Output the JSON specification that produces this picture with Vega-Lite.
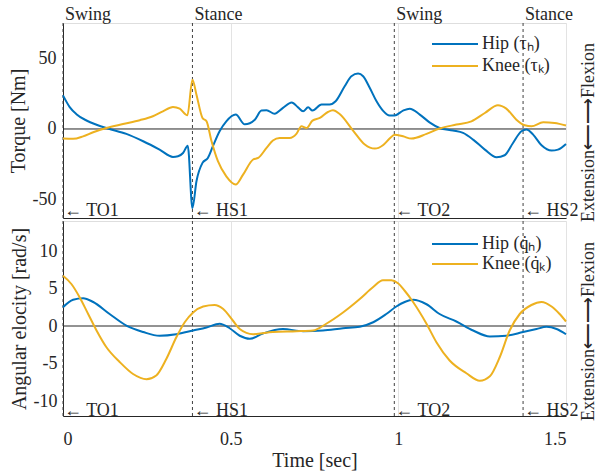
{
  "$schema": "https://vega.github.io/schema/vega-lite/v6.json",
  "padding": {"left": 7, "top": 5, "right": 0, "bottom": 0},
  "config": {
    "font": "Liberation Serif, Times New Roman, serif",
    "view": {"stroke": "#dedede"},
    "axis": {"gridColor": "#e3e3e3", "domainColor": "#262626", "labelColor": "#262626", "titleColor": "#262626", "labelFontSize": 18, "titleFontSize": 20, "titleFontWeight": "normal", "ticks": false, "labelFont": "Liberation Serif, Times New Roman, serif", "titleFont": "Liberation Serif, Times New Roman, serif"},
    "legend": {"labelFontSize": 18, "labelColor": "#262626", "labelFont": "Liberation Serif, Times New Roman, serif"},
    "text": {"font": "Liberation Serif, Times New Roman, serif"}
  },
  "datasets": {
    "torque": [
      {"t": 0, "series": "Hip", "v": 23.8}, {"t": 0.02, "series": "Hip", "v": 15.5}, {"t": 0.04, "series": "Hip", "v": 10.5}, {"t": 0.07, "series": "Hip", "v": 6}, {"t": 0.1, "series": "Hip", "v": 3}, {"t": 0.134, "series": "Hip", "v": 0.3}, {"t": 0.189, "series": "Hip", "v": -3.5}, {"t": 0.239, "series": "Hip", "v": -8.7}, {"t": 0.288, "series": "Hip", "v": -14.6}, {"t": 0.328, "series": "Hip", "v": -19.8}, {"t": 0.343, "series": "Hip", "v": -19.3}, {"t": 0.358, "series": "Hip", "v": -17}, {"t": 0.372, "series": "Hip", "v": -11.8}, {"t": 0.386, "series": "Hip", "v": -56}, {"t": 0.398, "series": "Hip", "v": -37}, {"t": 0.416, "series": "Hip", "v": -24}, {"t": 0.432, "series": "Hip", "v": -20.5}, {"t": 0.447, "series": "Hip", "v": -12.2}, {"t": 0.467, "series": "Hip", "v": -1.6}, {"t": 0.487, "series": "Hip", "v": 5.4}, {"t": 0.515, "series": "Hip", "v": 10.2}, {"t": 0.542, "series": "Hip", "v": 3.3}, {"t": 0.572, "series": "Hip", "v": 6.6}, {"t": 0.592, "series": "Hip", "v": 13}, {"t": 0.607, "series": "Hip", "v": 13.2}, {"t": 0.631, "series": "Hip", "v": 10.8}, {"t": 0.656, "series": "Hip", "v": 14.9}, {"t": 0.682, "series": "Hip", "v": 18.8}, {"t": 0.701, "series": "Hip", "v": 15.3}, {"t": 0.716, "series": "Hip", "v": 12.5}, {"t": 0.731, "series": "Hip", "v": 15.3}, {"t": 0.744, "series": "Hip", "v": 13}, {"t": 0.771, "series": "Hip", "v": 17.3}, {"t": 0.795, "series": "Hip", "v": 17.3}, {"t": 0.813, "series": "Hip", "v": 19.6}, {"t": 0.84, "series": "Hip", "v": 30.2}, {"t": 0.86, "series": "Hip", "v": 37.3}, {"t": 0.88, "series": "Hip", "v": 39.2}, {"t": 0.895, "series": "Hip", "v": 37.3}, {"t": 0.915, "series": "Hip", "v": 29}, {"t": 0.935, "series": "Hip", "v": 19.6}, {"t": 0.954, "series": "Hip", "v": 13}, {"t": 0.974, "series": "Hip", "v": 9.5}, {"t": 0.989, "series": "Hip", "v": 9.5}, {"t": 1.014, "series": "Hip", "v": 13}, {"t": 1.034, "series": "Hip", "v": 14.4}, {"t": 1.064, "series": "Hip", "v": 10.2}, {"t": 1.093, "series": "Hip", "v": 4.7}, {"t": 1.123, "series": "Hip", "v": 0.7}, {"t": 1.163, "series": "Hip", "v": -1.1}, {"t": 1.193, "series": "Hip", "v": -2.8}, {"t": 1.223, "series": "Hip", "v": -7.5}, {"t": 1.258, "series": "Hip", "v": -14.6}, {"t": 1.293, "series": "Hip", "v": -20}, {"t": 1.317, "series": "Hip", "v": -18.6}, {"t": 1.342, "series": "Hip", "v": -9.9}, {"t": 1.367, "series": "Hip", "v": -1.6}, {"t": 1.382, "series": "Hip", "v": -0.4}, {"t": 1.402, "series": "Hip", "v": -4}, {"t": 1.427, "series": "Hip", "v": -11.5}, {"t": 1.457, "series": "Hip", "v": -15.3}, {"t": 1.476, "series": "Hip", "v": -14.6}, {"t": 1.5, "series": "Hip", "v": -10.6},
      {"t": 0, "series": "Knee", "v": -6.8}, {"t": 0.03, "series": "Knee", "v": -7}, {"t": 0.06, "series": "Knee", "v": -5.2}, {"t": 0.09, "series": "Knee", "v": -2.3}, {"t": 0.129, "series": "Knee", "v": 0.7}, {"t": 0.179, "series": "Knee", "v": 3.5}, {"t": 0.229, "series": "Knee", "v": 6.2}, {"t": 0.268, "series": "Knee", "v": 9}, {"t": 0.298, "series": "Knee", "v": 12.5}, {"t": 0.328, "series": "Knee", "v": 15.6}, {"t": 0.348, "series": "Knee", "v": 14.4}, {"t": 0.371, "series": "Knee", "v": 9.7}, {"t": 0.386, "series": "Knee", "v": 34.9}, {"t": 0.398, "series": "Knee", "v": 24.3}, {"t": 0.416, "series": "Knee", "v": 7.8}, {"t": 0.428, "series": "Knee", "v": 5.4}, {"t": 0.443, "series": "Knee", "v": -8.7}, {"t": 0.462, "series": "Knee", "v": -22.8}, {"t": 0.487, "series": "Knee", "v": -33.5}, {"t": 0.515, "series": "Knee", "v": -39.3}, {"t": 0.537, "series": "Knee", "v": -32.3}, {"t": 0.567, "series": "Knee", "v": -21.6}, {"t": 0.582, "series": "Knee", "v": -20.5}, {"t": 0.607, "series": "Knee", "v": -13.4}, {"t": 0.626, "series": "Knee", "v": -8.2}, {"t": 0.646, "series": "Knee", "v": -6.4}, {"t": 0.676, "series": "Knee", "v": -6.4}, {"t": 0.696, "series": "Knee", "v": -3.5}, {"t": 0.711, "series": "Knee", "v": 1.9}, {"t": 0.726, "series": "Knee", "v": 0.7}, {"t": 0.744, "series": "Knee", "v": 5.9}, {"t": 0.766, "series": "Knee", "v": 7.8}, {"t": 0.79, "series": "Knee", "v": 12}, {"t": 0.805, "series": "Knee", "v": 13.2}, {"t": 0.825, "series": "Knee", "v": 10.6}, {"t": 0.865, "series": "Knee", "v": -1.1}, {"t": 0.9, "series": "Knee", "v": -11}, {"t": 0.93, "series": "Knee", "v": -13.9}, {"t": 0.954, "series": "Knee", "v": -11.5}, {"t": 0.974, "series": "Knee", "v": -6.8}, {"t": 0.989, "series": "Knee", "v": -4}, {"t": 1.014, "series": "Knee", "v": -5.2}, {"t": 1.039, "series": "Knee", "v": -6.8}, {"t": 1.084, "series": "Knee", "v": -3.5}, {"t": 1.123, "series": "Knee", "v": 0.3}, {"t": 1.173, "series": "Knee", "v": 3.1}, {"t": 1.218, "series": "Knee", "v": 5.4}, {"t": 1.258, "series": "Knee", "v": 11.3}, {"t": 1.297, "series": "Knee", "v": 16.8}, {"t": 1.322, "series": "Knee", "v": 14.4}, {"t": 1.352, "series": "Knee", "v": 6.6}, {"t": 1.377, "series": "Knee", "v": 2.6}, {"t": 1.397, "series": "Knee", "v": 1.9}, {"t": 1.432, "series": "Knee", "v": 4.7}, {"t": 1.466, "series": "Knee", "v": 4.2}, {"t": 1.5, "series": "Knee", "v": 2.4}
    ],
    "vel": [
      {"t": 0, "series": "Hip", "v": 2.5}, {"t": 0.03, "series": "Hip", "v": 3.5}, {"t": 0.06, "series": "Hip", "v": 3.7}, {"t": 0.09, "series": "Hip", "v": 3.2}, {"t": 0.139, "series": "Hip", "v": 1.6}, {"t": 0.189, "series": "Hip", "v": 0.05}, {"t": 0.239, "series": "Hip", "v": -0.8}, {"t": 0.288, "series": "Hip", "v": -1.3}, {"t": 0.338, "series": "Hip", "v": -1.1}, {"t": 0.388, "series": "Hip", "v": -0.6}, {"t": 0.428, "series": "Hip", "v": -0.2}, {"t": 0.467, "series": "Hip", "v": 0.3}, {"t": 0.497, "series": "Hip", "v": -0.3}, {"t": 0.527, "series": "Hip", "v": -1.3}, {"t": 0.557, "series": "Hip", "v": -1.7}, {"t": 0.596, "series": "Hip", "v": -1.0}, {"t": 0.656, "series": "Hip", "v": -0.4}, {"t": 0.716, "series": "Hip", "v": -0.7}, {"t": 0.775, "series": "Hip", "v": -0.6}, {"t": 0.835, "series": "Hip", "v": -0.3}, {"t": 0.885, "series": "Hip", "v": -0.1}, {"t": 0.925, "series": "Hip", "v": 0.5}, {"t": 0.964, "series": "Hip", "v": 1.6}, {"t": 0.994, "series": "Hip", "v": 2.6}, {"t": 1.019, "series": "Hip", "v": 3.2}, {"t": 1.044, "series": "Hip", "v": 3.5}, {"t": 1.084, "series": "Hip", "v": 2.9}, {"t": 1.123, "series": "Hip", "v": 1.6}, {"t": 1.173, "series": "Hip", "v": 0.6}, {"t": 1.223, "series": "Hip", "v": -0.6}, {"t": 1.273, "series": "Hip", "v": -1.4}, {"t": 1.322, "series": "Hip", "v": -1.3}, {"t": 1.372, "series": "Hip", "v": -0.8}, {"t": 1.412, "series": "Hip", "v": -0.4}, {"t": 1.442, "series": "Hip", "v": -0.1}, {"t": 1.472, "series": "Hip", "v": -0.4}, {"t": 1.5, "series": "Hip", "v": -1.1},
      {"t": 0, "series": "Knee", "v": 6.7}, {"t": 0.025, "series": "Knee", "v": 5.6}, {"t": 0.05, "series": "Knee", "v": 3.8}, {"t": 0.075, "series": "Knee", "v": 1.6}, {"t": 0.1, "series": "Knee", "v": -0.6}, {"t": 0.129, "series": "Knee", "v": -2.8}, {"t": 0.169, "series": "Knee", "v": -4.8}, {"t": 0.209, "series": "Knee", "v": -6.4}, {"t": 0.249, "series": "Knee", "v": -7.1}, {"t": 0.278, "series": "Knee", "v": -6.6}, {"t": 0.308, "series": "Knee", "v": -4.4}, {"t": 0.338, "series": "Knee", "v": -1.5}, {"t": 0.363, "series": "Knee", "v": 0.5}, {"t": 0.388, "series": "Knee", "v": 1.8}, {"t": 0.418, "series": "Knee", "v": 2.6}, {"t": 0.452, "series": "Knee", "v": 2.8}, {"t": 0.477, "series": "Knee", "v": 2.3}, {"t": 0.507, "series": "Knee", "v": 0.7}, {"t": 0.527, "series": "Knee", "v": -0.4}, {"t": 0.567, "series": "Knee", "v": -1.1}, {"t": 0.626, "series": "Knee", "v": -0.8}, {"t": 0.696, "series": "Knee", "v": -0.7}, {"t": 0.746, "series": "Knee", "v": -0.6}, {"t": 0.785, "series": "Knee", "v": 0.3}, {"t": 0.835, "series": "Knee", "v": 1.8}, {"t": 0.885, "series": "Knee", "v": 3.6}, {"t": 0.925, "series": "Knee", "v": 5.2}, {"t": 0.954, "series": "Knee", "v": 6.1}, {"t": 0.979, "series": "Knee", "v": 6.1}, {"t": 0.999, "series": "Knee", "v": 5.7}, {"t": 1.019, "series": "Knee", "v": 4.7}, {"t": 1.044, "series": "Knee", "v": 3.2}, {"t": 1.084, "series": "Knee", "v": 0.3}, {"t": 1.114, "series": "Knee", "v": -2.2}, {"t": 1.153, "series": "Knee", "v": -4.6}, {"t": 1.203, "series": "Knee", "v": -6.3}, {"t": 1.243, "series": "Knee", "v": -7.3}, {"t": 1.273, "series": "Knee", "v": -6.7}, {"t": 1.302, "series": "Knee", "v": -4.2}, {"t": 1.332, "series": "Knee", "v": -0.6}, {"t": 1.362, "series": "Knee", "v": 1.6}, {"t": 1.397, "series": "Knee", "v": 2.8}, {"t": 1.427, "series": "Knee", "v": 3.2}, {"t": 1.457, "series": "Knee", "v": 2.6}, {"t": 1.481, "series": "Knee", "v": 1.6}, {"t": 1.5, "series": "Knee", "v": 0.6}
    ],
    "events": [
      {"t": 0, "phase": "Swing", "event": "← TO1"},
      {"t": 0.386, "phase": "Stance", "event": "← HS1"},
      {"t": 0.988, "phase": "Swing", "event": "← TO2"},
      {"t": 1.372, "phase": "Stance", "event": "← HS2"}
    ]
  },
  "spacing": 3,
  "bounds": "flush",
  "resolve": {"scale": {"color": "independent"}, "legend": {"color": "independent"}},
  "vconcat": [
    {
      "width": 503,
      "height": 195,
      "resolve": {"axis": {"y": "independent"}},
      "layer": [
        {
          "data": {"values": [{"z": 0}]},
          "mark": {"type": "rule", "color": "#262626", "strokeWidth": 1},
          "encoding": {
            "y": {"field": "z", "type": "quantitative", "scale": {"domain": [-63, 75], "nice": false},
              "axis": {"orient": "right", "title": "Extension⟵⟶Flexion", "labels": false, "ticks": false, "domain": false, "grid": false, "titleAngle": 270, "titleFontSize": 18, "titlePadding": 31, "titleY": 109}}
          }
        },
        {
          "data": {"name": "events"},
          "mark": {"type": "rule", "color": "#404040", "strokeDash": [3, 3], "strokeWidth": 1},
          "encoding": {"x": {"field": "t", "type": "quantitative", "scale": {"domain": [0, 1.5], "nice": false}}}
        },
        {
          "data": {"name": "torque"},
          "mark": {"type": "line", "strokeWidth": 2, "interpolate": "monotone"},
          "encoding": {
            "x": {"field": "t", "type": "quantitative", "scale": {"domain": [0, 1.5], "nice": false},
              "axis": {"values": [0, 0.5, 1, 1.5], "labels": false, "title": null, "grid": true, "labelPadding": 0, "minExtent": 0, "maxExtent": 0}},
            "y": {"field": "v", "type": "quantitative", "scale": {"domain": [-63, 75], "nice": false},
              "axis": {"values": [-50, 0, 50], "title": "Torque [Nm]", "labelPadding": 7, "titlePadding": 4, "labelExpr": "'' + datum.value", "domain": true}},
            "color": {"field": "series", "type": "nominal", "scale": {"domain": ["Hip", "Knee"], "range": ["#0072BD", "#EDB120"]},
              "legend": {"title": null, "orient": "none", "legendX": 364, "legendY": 12, "symbolType": "M-1,0L10.5,0", "symbolSize": 64, "symbolStrokeWidth": 2, "labelOffset": 37, "rowPadding": 4, "labelExpr": "datum.label == 'Hip' ? 'Hip (τₕ)' : 'Knee (τₖ)'"}}
          }
        },
        {
          "data": {"name": "events"},
          "mark": {"type": "text", "align": "left", "baseline": "middle", "dx": 2, "fontSize": 18, "color": "#262626"},
          "encoding": {
            "x": {"field": "t", "type": "quantitative"},
            "y": {"datum": 80.4, "type": "quantitative", "axis": null},
            "text": {"field": "phase"}
          }
        },
        {
          "data": {"name": "events"},
          "mark": {"type": "text", "align": "left", "baseline": "middle", "dx": 1, "fontSize": 18, "color": "#262626"},
          "encoding": {
            "x": {"field": "t", "type": "quantitative"},
            "y": {"datum": -58.2, "type": "quantitative", "axis": null},
            "text": {"field": "event"}
          }
        }
      ]
    },
    {
      "width": 503,
      "height": 195,
      "resolve": {"axis": {"y": "independent"}},
      "layer": [
        {
          "data": {"values": [{"z": 0}]},
          "mark": {"type": "rule", "color": "#262626", "strokeWidth": 1},
          "encoding": {
            "y": {"field": "z", "type": "quantitative", "scale": {"domain": [-12, 14], "nice": false},
              "axis": {"orient": "right", "title": "Extension⟵⟶Flexion", "labels": false, "ticks": false, "domain": false, "grid": false, "titleAngle": 270, "titleFontSize": 18, "titlePadding": 31, "titleY": 110}}
          }
        },
        {
          "data": {"name": "events"},
          "mark": {"type": "rule", "color": "#404040", "strokeDash": [3, 3], "strokeWidth": 1},
          "encoding": {"x": {"field": "t", "type": "quantitative", "scale": {"domain": [0, 1.5], "nice": false}}}
        },
        {
          "data": {"name": "vel"},
          "mark": {"type": "line", "strokeWidth": 2, "interpolate": "monotone"},
          "encoding": {
            "x": {"field": "t", "type": "quantitative", "scale": {"domain": [0, 1.5], "nice": false},
              "axis": {"values": [0, 0.5, 1, 1.5], "labelExpr": "'' + datum.value", "title": "Time [sec]", "grid": true, "labelPadding": 14, "titlePadding": 2}},
            "y": {"field": "v", "type": "quantitative", "scale": {"domain": [-12, 14], "nice": false},
              "axis": {"values": [-10, -5, 0, 5, 10], "title": "Angular elocity [rad/s]", "labelPadding": 6, "titlePadding": 4, "labelExpr": "'' + datum.value"}},
            "color": {"field": "series", "type": "nominal", "scale": {"domain": ["Hip", "Knee"], "range": ["#0072BD", "#EDB120"]},
              "legend": {"title": null, "orient": "none", "legendX": 364, "legendY": 14, "symbolType": "M-1,0L10.5,0", "symbolSize": 64, "symbolStrokeWidth": 2, "labelOffset": 37, "rowPadding": 2, "labelExpr": "datum.label == 'Hip' ? 'Hip (q̇ₕ)' : 'Knee (q̇ₖ)'"}}
          }
        },
        {
          "data": {"name": "events"},
          "mark": {"type": "text", "align": "left", "baseline": "middle", "dx": 1, "fontSize": 18, "color": "#262626"},
          "encoding": {
            "x": {"field": "t", "type": "quantitative"},
            "y": {"datum": -11.3, "type": "quantitative", "axis": null},
            "text": {"field": "event"}
          }
        }
      ]
    }
  ]
}
